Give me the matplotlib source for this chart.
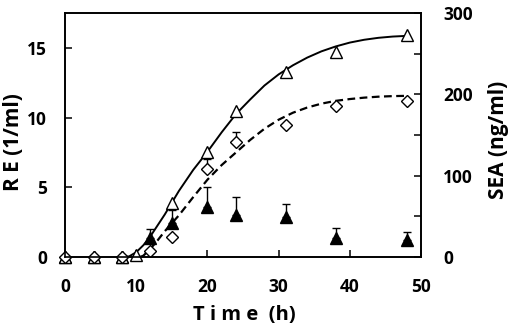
import numpy as np
import matplotlib
matplotlib.use('Agg')
import matplotlib.pyplot as plt

plt.rcParams['font.family'] = ['Open Sans', 'DejaVu Sans']
plt.rcParams['font.weight'] = 'bold'

# open triangles (solid fit)
t_tri = [0, 4, 8, 10, 15, 20, 24, 31, 38, 48]
re_tri = [0, 0, 0, 0.15, 3.88, 7.5, 10.48, 13.3, 14.68, 15.92]

# open diamonds (dashed fit)
t_dia = [0, 4, 8, 12, 15, 20, 24, 31, 38, 48]
re_dia = [0, 0, 0, 0.43, 1.42, 6.3, 8.28, 9.46, 10.84, 11.21]
dia_err = [0, 0, 0, 0, 0, 0.75, 0.7, 0, 0, 0]

# filled triangles
t_fill = [0, 4, 8, 12, 15, 20, 24, 31, 38, 48]
re_fill = [0, 0, 0, 1.34, 2.43, 3.6, 3.04, 2.9, 1.36, 1.2]
fill_err = [0, 0, 0, 0.7, 0.97, 1.41, 1.27, 0.87, 0.72, 0.57]

# fitted curves
t_fit1 = [8, 9, 10, 11, 12, 14, 16, 18, 20, 22, 24, 26, 28, 30, 32, 34, 36,
          38, 40, 42, 44, 46, 48]
fit1 = [0, 0.05, 0.35, 0.85, 1.5, 3.05, 4.75, 6.25, 7.55, 8.95, 10.25, 11.3,
        12.3, 13.1, 13.75, 14.3, 14.75, 15.1, 15.38, 15.58, 15.72, 15.81, 15.86]
t_fit2 = [10.5, 11, 12, 13, 14, 16, 18, 20, 22, 24, 26, 28, 30, 32, 34, 36,
          38, 40, 42, 44, 46, 48]
fit2 = [0, 0.1, 0.6, 1.2, 1.85, 3.0, 4.3, 5.55, 6.6, 7.5, 8.4, 9.2,
        9.85, 10.35, 10.72, 11.0, 11.2, 11.33, 11.43, 11.5, 11.54, 11.56]

fig = plt.figure(figsize=(5.08, 3.33), dpi=100)
ax = fig.add_axes([0.128, 0.228, 0.701, 0.733])

ax.plot(t_fit1, fit1, color='black', lw=1.4, zorder=2)
ax.plot(t_fit2, fit2, color='black', lw=1.6, ls=(0, (3.5, 2)), zorder=2)

ax.errorbar(t_fill, re_fill, yerr=[np.zeros(len(fill_err)), fill_err],
            fmt='^', ms=8.5, color='black', mfc='black', ecolor='black',
            elinewidth=1.0, capsize=3, capthick=1.0, zorder=3, clip_on=False)
ax.errorbar(t_tri, re_tri, fmt='^', ms=9, color='black', mfc='white',
            mew=1.0, zorder=4, clip_on=False)
ax.errorbar(t_dia, re_dia, yerr=[np.zeros(len(dia_err)), dia_err],
            fmt='D', ms=6.5, color='black', mfc='white', mew=1.0,
            ecolor='black', elinewidth=1.0, capsize=3, capthick=1.0, zorder=5,
            clip_on=False)

ax.set_xlim(0, 50)
ax.set_ylim(0, 17.5)
ax.set_xticks([0, 10, 20, 30, 40, 50])
ax.set_yticks([0, 5, 10, 15])
ax.tick_params(direction='in', length=5, width=1.1, labelsize=12.5)
ax.tick_params(axis='y', pad=13)
ax.tick_params(axis='x', pad=15)
for s in ax.spines.values():
    s.set_linewidth(1.2)

ax2 = ax.twinx()
ax2.set_ylim(0, 300)
ax2.set_yticks([0, 50, 100, 150, 200, 250, 300])
ax2.set_yticklabels(['0', '', '100', '', '200', '', '300'])
ax2.tick_params(direction='in', length=5, width=1.1, labelsize=12.5, pad=16)
for s in ax2.spines.values():
    s.set_linewidth(1.2)

fig.text(0.480, 0.054, 'T i m e  (h)', fontsize=14.5, fontweight='bold',
         ha='center', va='center')
fig.text(0.026, 0.574, 'R E (1/ml)', fontsize=15, fontweight='bold',
         rotation=90, ha='center', va='center')
fig.text(0.981, 0.580, 'SEA (ng/ml)', fontsize=15, fontweight='bold',
         rotation=90, ha='center', va='center')

fig.savefig('out.png', dpi=100)
